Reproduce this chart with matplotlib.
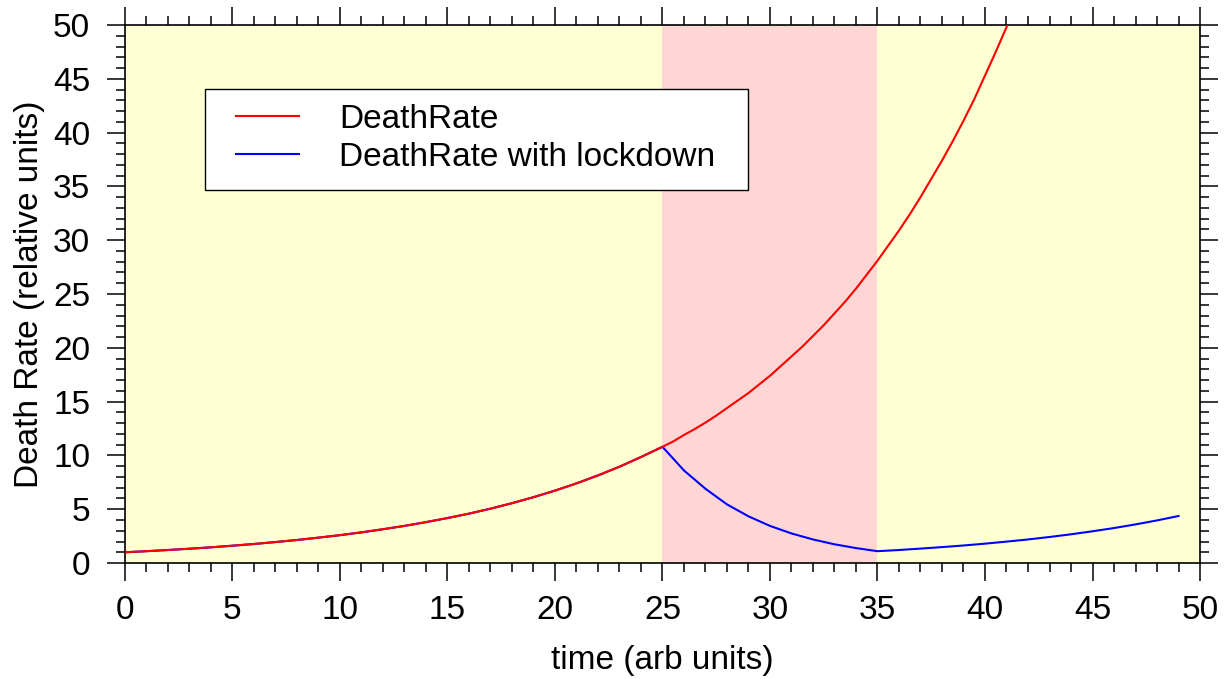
import matplotlib
matplotlib.use("Agg")
import matplotlib.pyplot as plt
from matplotlib.patches import Rectangle
from matplotlib.ticker import MultipleLocator

plt.rcParams['font.family'] = ['Liberation Sans', 'DejaVu Sans']

t_red = [0, 1, 2, 3, 4, 5, 6, 7, 8, 9, 10, 11, 12, 13, 14, 15, 16, 17, 18,
         19, 20, 21, 22, 23, 24, 25, 25.5, 26, 26.5, 27, 27.5, 28, 28.5, 29,
         29.5, 30, 30.5, 31, 31.5, 32, 32.5, 33, 33.5, 34, 34.5, 35, 35.5,
         36, 36.5, 37, 37.5, 38, 38.5, 39, 39.5, 40, 40.5, 41, 41.5]
death_rate = [1.00, 1.10, 1.21, 1.33, 1.46, 1.61, 1.77, 1.95, 2.14, 2.36,
              2.59, 2.85, 3.14, 3.45, 3.80, 4.18, 4.59, 5.05, 5.56, 6.12,
              6.73, 7.40, 8.14, 8.95, 9.85, 10.8, 11.3, 11.9, 12.45, 13.05,
              13.7, 14.4, 15.1, 15.8, 16.6, 17.4, 18.3, 19.2, 20.1, 21.1,
              22.1, 23.2, 24.3, 25.5, 26.8, 28.1, 29.5, 30.9, 32.4, 34.0,
              35.7, 37.4, 39.2, 41.1, 43.1, 45.3, 47.5, 49.8, 52.3]

t_blue = list(range(0, 50))
death_rate_lockdown = [
    1.00, 1.10, 1.21, 1.33, 1.46, 1.61, 1.77, 1.95, 2.14, 2.36,
    2.59, 2.85, 3.14, 3.45, 3.80, 4.18, 4.59, 5.05, 5.56, 6.12,
    6.73, 7.40, 8.14, 8.95, 9.85, 10.8,
    8.6, 6.9, 5.45, 4.34, 3.45, 2.75, 2.19, 1.74, 1.39, 1.1,
    1.21, 1.34, 1.48, 1.63, 1.80, 1.99, 2.19, 2.42, 2.67, 2.95,
    3.25, 3.59, 3.96, 4.37]

lockdown_start, lockdown_end = 25, 35

fig = plt.figure(figsize=(12.25, 6.79), dpi=100)
ax = fig.add_axes([0.102, 0.1708, 0.8776, 0.7924])
ax.set_facecolor('#ffffd4')
ax.axvspan(lockdown_start, lockdown_end, color='#ffd6d6', lw=0, zorder=0)

ax.plot(t_blue, death_rate_lockdown, color='blue', lw=1.5,
        label='DeathRate with lockdown', zorder=2)
ax.plot(t_red, death_rate, color='red', lw=1.5, label='DeathRate', zorder=3)

ax.set_xlim(0, 50)
ax.set_ylim(0, 50)
ax.xaxis.set_major_locator(MultipleLocator(5))
ax.xaxis.set_minor_locator(MultipleLocator(1))
ax.yaxis.set_major_locator(MultipleLocator(5))
ax.yaxis.set_minor_locator(MultipleLocator(1))
ax.tick_params(which='both', direction='out', top=True, right=True,
               width=1.1, labelsize=24)
ax.tick_params(which='major', length=13)
ax.tick_params(which='minor', length=6.5)
ax.tick_params(axis='x', pad=10)
ax.tick_params(axis='y', pad=12)
for sp in ax.spines.values():
    sp.set_linewidth(1.2)

ax.set_xlabel('time (arb units)', fontsize=24, labelpad=14)
ax.set_ylabel('Death Rate (relative units)', fontsize=24, labelpad=6)

# legend box drawn separately so the padding can match the reference
ax.add_patch(Rectangle((0.0744, 0.693), 0.5051, 0.188, transform=ax.transAxes,
                       facecolor='white', edgecolor='black', lw=1.0, zorder=4))
handles, labels = ax.get_legend_handles_labels()
leg = ax.legend(handles[::-1], labels[::-1], loc='upper left',
                bbox_to_anchor=(0.1033, 0.853), fontsize=24, frameon=False,
                handlelength=1.9, handletextpad=1.2, borderpad=0,
                borderaxespad=0, labelspacing=0.2)
leg.set_zorder(5)

fig.savefig('out.png', dpi=100)
